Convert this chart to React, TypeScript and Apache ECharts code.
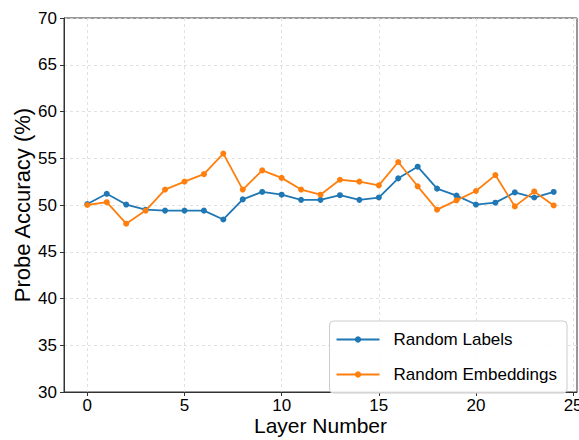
import React, { useEffect, useRef } from "react";
import * as echarts from "echarts";

const layers = [0, 1, 2, 3, 4, 5, 6, 7, 8, 9, 10, 11, 12, 13, 14, 15, 16, 17, 18, 19, 20, 21, 22, 23, 24];
const randomLabels = [50.1, 51.2, 50.05, 49.5, 49.4, 49.4, 49.4, 48.45, 50.6, 51.4, 51.1, 50.55, 50.55, 51.05, 50.55, 50.8, 52.85, 54.1, 51.75, 51.0, 50.05, 50.25, 51.35, 50.8, 51.4];
const randomEmbeddings = [50.0, 50.3, 48.0, 49.4, 51.65, 52.5, 53.3, 55.5, 51.65, 53.7, 52.9, 51.65, 51.1, 52.7, 52.5, 52.1, 54.6, 52.0, 49.5, 50.5, 51.5, 53.2, 49.85, 51.45, 49.95];
const xTicks = [0, 5, 10, 15, 20, 25];
const seriesNames = ["Random Labels", "Random Embeddings"];
const colors = ["#1f77b4", "#ff7f0e"];

const FONT = "Liberation Sans";

export default function App() {
  const ref = useRef<HTMLDivElement>(null);
  useEffect(() => {
    if (!ref.current) return;
    const chart = echarts.init(ref.current, undefined, { renderer: "svg" });
    const mk = (vals: number[]) => layers.map((l, i) => [l, vals[i]]);
    chart.setOption({
      animation: false,
      backgroundColor: "#ffffff",
      textStyle: { fontFamily: FONT },
      grid: {
        left: 64,
        right: 2,
        top: 18,
        bottom: 48,
        containLabel: false,
        outerBoundsMode: "none",
        show: true,
        borderColor: "#333",
        borderWidth: 1,
        backgroundColor: "transparent",
      },
      xAxis: {
        type: "value",
        min: -1.2,
        max: 25.2,
        name: "Layer Number",
        nameLocation: "middle",
        nameGap: 23,
        nameMoveOverlap: false,
        nameTextStyle: { fontSize: 21, color: "#000", fontFamily: FONT },
        axisLine: { show: true, onZero: false, lineStyle: { color: "#333", width: 1 } },
        axisTick: { show: true, customValues: xTicks, length: 4, lineStyle: { color: "#333" } },
        axisLabel: { customValues: xTicks, fontSize: 17, color: "#000", margin: 5, fontFamily: FONT },
        splitLine: { show: true, lineStyle: { color: "#d9d9d9", type: [3, 3], width: 0.8 } },
      },
      yAxis: {
        type: "value",
        min: 30,
        max: 70,
        interval: 5,
        name: "Probe Accuracy (%)",
        nameLocation: "middle",
        nameGap: 31,
        nameMoveOverlap: false,
        nameTextStyle: { fontSize: 22, color: "#000", fontFamily: FONT },
        axisLine: { show: true, onZero: false, lineStyle: { color: "#333", width: 1 } },
        axisTick: { show: true, length: 4, lineStyle: { color: "#333" } },
        axisLabel: { fontSize: 17, color: "#000", margin: 7, fontFamily: FONT },
        splitLine: { show: true, lineStyle: { color: "#d9d9d9", type: [3, 3], width: 0.8 } },
      },
      legend: {
        orient: "vertical",
        right: 12,
        top: 321,
        itemWidth: 43,
        itemHeight: 8,
        itemGap: 18,
        padding: [10, 10, 10, 6],
        backgroundColor: "rgba(255,255,255,0.85)",
        borderColor: "#cccccc",
        borderWidth: 1,
        borderRadius: 4,
        textStyle: { fontSize: 17, color: "#000", fontFamily: FONT, padding: [0, 0, 0, 9] },
        data: seriesNames,
      },
      series: [
        {
          name: seriesNames[0],
          type: "line",
          data: mk(randomLabels),
          color: colors[0],
          symbol: "circle",
          symbolSize: 6,
          lineStyle: { width: 1.8, color: colors[0] },
          itemStyle: { color: colors[0] },
          z: 2,
        },
        {
          name: seriesNames[1],
          type: "line",
          data: mk(randomEmbeddings),
          color: colors[1],
          symbol: "circle",
          symbolSize: 6,
          lineStyle: { width: 1.8, color: colors[1] },
          itemStyle: { color: colors[1] },
          z: 3,
        },
      ],
    });
    return () => chart.dispose();
  }, []);
  return (
    <div
      ref={ref}
      style={{ position: "fixed", left: 0, top: 0, width: 579, height: 440, background: "#fff" }}
    />
  );
}
